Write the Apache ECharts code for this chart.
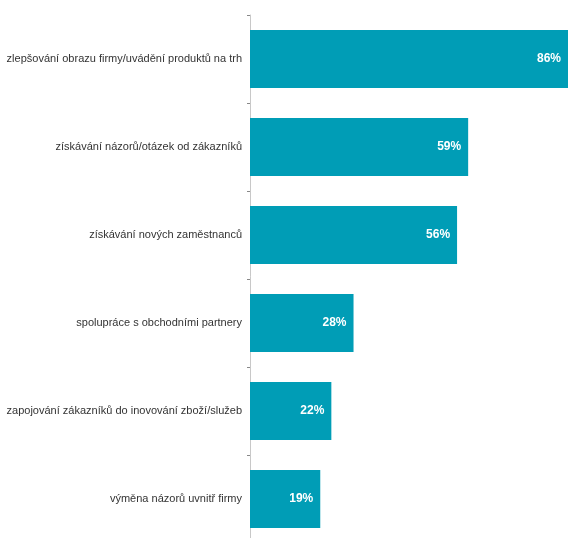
<!DOCTYPE html>
<html><head><meta charset="utf-8">
<script src="https://cdn.jsdelivr.net/npm/echarts@6/dist/echarts.min.js"></script>
<style>html,body{margin:0;padding:0;background:#fff}#c{width:568px;height:538px}</style>
</head><body><div id="c"></div>
<script>
const categories = [
  "zlepšování obrazu firmy/uvádění produktů na trh",
  "získávání názorů/otázek od zákazníků",
  "získávání nových zaměstnanců",
  "spolupráce s obchodními partnery",
  "zapojování zákazníků do inovování zboží/služeb",
  "výměna názorů uvnitř firmy"
];
const values = [86, 59, 56, 28, 22, 19];

const chart = echarts.init(document.getElementById('c'));
chart.setOption({
  animation: false,
  grid: { left: 250, right: 0, top: 15, bottom: -5, containLabel: false, outerBoundsMode: 'none' },
  xAxis: { type: 'value', min: 0, max: 86, show: false },
  yAxis: {
    type: 'category', inverse: true, data: categories,
    axisLine: { show: true, lineStyle: { color: '#c8c8c8', width: 1 } },
    axisTick: { show: true, length: 3, lineStyle: { color: '#888' } },
    axisLabel: { color: '#333', fontSize: 11, margin: 8, fontFamily: 'Liberation Sans, Arial, sans-serif' }
  },
  series: [{
    type: 'bar', data: values, barCategoryGap: '34%',
    itemStyle: { color: '#009db6' },
    label: { show: true, position: 'insideRight', distance: 7, color: '#fff', fontWeight: 'bold', fontSize: 12,
      fontFamily: 'Liberation Sans, Arial, sans-serif', formatter: '{c}%' }
  }]
});
</script></body></html>
